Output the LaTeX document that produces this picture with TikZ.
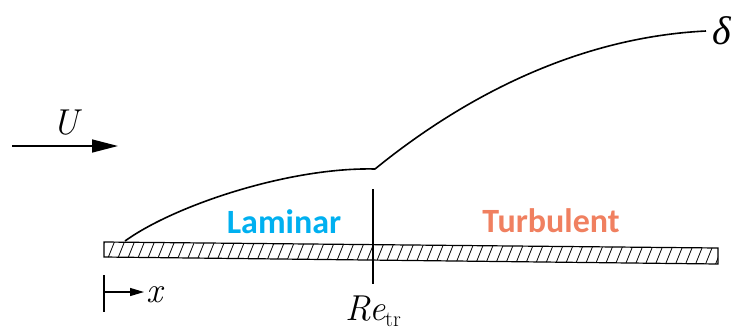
\documentclass[tikz,border=0pt]{standalone}
\usepackage{fontspec}
\newfontfamily\carlito{Carlito}
\newfontfamily\greekfont{Liberation Serif}
\usetikzlibrary{arrows.meta}
\definecolor{lamblue}{RGB}{0,176,240}
\definecolor{turborange}{RGB}{240,128,96}
\tikzset{
  curve/.style={line width=1.6pt, line join=round},
  regime/.style={font=\carlito\bfseries\fontsize{34}{38}\selectfont, inner sep=0pt, anchor=base},
  mathlbl/.style={font=\fontsize{36}{40}\selectfont, inner sep=0pt},
  platebox/.style={draw, line width=1.2pt},
  hatch/.style={line width=0.8pt},
}
\begin{document}
\begin{tikzpicture}[x=1pt,y=-1pt]
\useasboundingbox (0,0) rectangle (737,333);
% plate
\coordinate (pTL) at (104,242);
\coordinate (pTR) at (718,248);
\coordinate (pBR) at (718,264);
\coordinate (pBL) at (104,257);
\begin{scope}
  \clip (pTL) -- (pTR) -- (pBR) -- (pBL) -- cycle;
  \foreach \i in {94,104,...,730} {
    \draw[hatch] (\i,268) -- (\i+12,238);
  }
\end{scope}
\draw[platebox] (pTL) -- (pTR) -- (pBR) -- (pBL) -- cycle;
% boundary layer
\coordinate (lam0) at (125,241);
\coordinate (tr) at (375,169);
\coordinate (delta0) at (706,31);
\draw[curve] (lam0) .. controls (175,205) and (290,167) .. (tr)
  .. controls (450,108) and (565,38) .. (delta0);
% transition line
\coordinate (trTop) at (373,189);
\coordinate (trBot) at (373,284);
\draw[line width=1.2pt] (trTop) -- (trBot);
% labels
\node[regime, text=lamblue] (lam) at (284,233) {Laminar};
\node[regime, text=turborange] (turb) at (551,232) {Turbulent};
\node[mathlbl, anchor=west, font=\greekfont\itshape\fontsize{40}{44}\selectfont] (delta) at (712,31) {δ};
\node[mathlbl, anchor=base] (ret) at (373,320) {\itshape Re\upshape\fontsize{22}{24}\selectfont\raisebox{-6pt}{tr}};
\node[mathlbl, anchor=base] (U) at (66,134) {\itshape U};
% U arrow
\coordinate (uS) at (12,146);
\coordinate (uE) at (118,146);
\draw[line width=1.5pt, -{Triangle[length=26pt,width=13pt]}] (uS) -- (uE);
% x arrow
\coordinate (xT) at (104,275);
\coordinate (xB) at (104,312);
\coordinate (xS) at (104,292);
\coordinate (xE) at (144,292);
\draw[line width=1.2pt] (xT) -- (xB);
\draw[line width=1.2pt, -{Triangle[length=14pt,width=8pt]}] (xS) -- (xE);
\node[mathlbl, anchor=base west] (xl) at (146,302) {\itshape x};
\end{tikzpicture}
\end{document}
